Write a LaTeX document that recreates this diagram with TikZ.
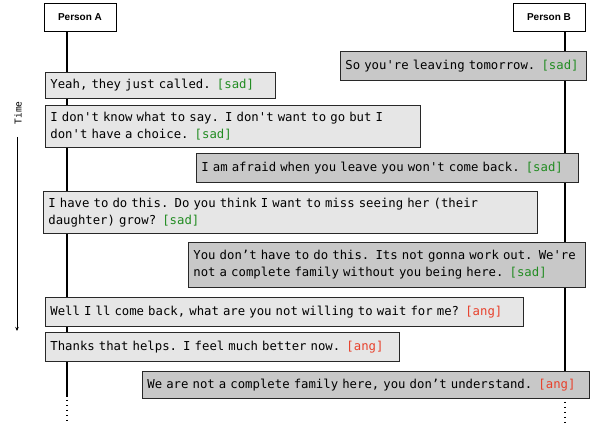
\documentclass[tikz,border=0pt]{standalone}
\usepackage{fontspec}
\setmonofont{DejaVu Sans Mono}
\newfontfamily\headfont{Liberation Sans}
\usetikzlibrary{arrows.meta}
\definecolor{sadgreen}{RGB}{34,140,34}
\definecolor{angred}{RGB}{232,65,44}
\definecolor{afill}{RGB}{230,230,230}
\definecolor{bfill}{RGB}{200,200,200}
\definecolor{edge}{RGB}{40,40,40}
\newcommand{\sad}{\textcolor{sadgreen}{[sad]}}
\newcommand{\ang}{\textcolor{angred}{[ang]}}
\tikzset{
  actor/.style={draw=black, fill=white, line width=0.8pt, minimum width=72pt,
    minimum height=28pt, inner sep=0pt,
    font=\headfont\bfseries\fontsize{10}{12}\selectfont},
  msg/.style={draw=edge, line width=0.8pt, anchor=north west, align=left,
    inner xsep=5pt, inner ysep=0pt,
    font=\ttfamily\fontsize{12.3}{16.8}\selectfont},
  msgA/.style={msg, fill=afill},
  msgB/.style={msg, fill=bfill},
  lifeline/.style={line width=1.3pt, black},
  tail/.style={line width=1.3pt, black, dash pattern=on 1.5pt off 3.5pt},
}
\begin{document}
\begin{tikzpicture}[x=1pt, y=-1pt]
  \useasboundingbox (0,0) rectangle (590,427);

  % actors
  \node[actor] (pa) at (80,17) {Person A};
  \node[actor] (pb) at (549,17) {Person B};
  \coordinate (ta) at (67,397);
  \coordinate (tb) at (565,399);
  \coordinate (ea) at (67,421);
  \coordinate (eb) at (565,423);
  \draw[lifeline] (pa.south -| ta) -- (ta);
  \draw[lifeline] (pb.south -| tb) -- (tb);
  \draw[tail] (ta) ++(0,3) -- (ea);
  \draw[tail] (tb) ++(0,3) -- (eb);

  % time axis
  \node[rotate=90, font=\ttfamily\fontsize{9.5}{10}\selectfont] (time) at (18,113) {Time};
  \coordinate (tend) at (17,331);
  \draw[line width=0.6pt, -{Stealth[length=4pt, width=3.5pt]}] (17,137) -- (tend);

  % messages
  \node[msgB, text width=236pt, minimum height=29pt] (m1) at (340,51)
    {So you're leaving tomorrow. \sad};
  \node[msgA, text width=220pt, minimum height=26pt] (m2) at (45,72)
    {Yeah, they just called. \sad};
  \node[msgA, text width=365pt, minimum height=42pt] (m3) at (45,105)
    {I don't know what to say. I don't want to go but I\\don't have a choice. \sad};
  \node[msgB, text width=372pt, minimum height=29pt] (m4) at (196,153)
    {I am afraid when you leave you won't come back. \sad};
  \node[msgA, text width=484pt, minimum height=42pt] (m5) at (43,191)
    {I have to do this. Do you think I want to miss seeing her (their\\daughter) grow? \sad};
  \node[msgB, text width=387pt, minimum height=45pt] (m6) at (188,242)
    {You don’t have to do this. Its not gonna work out. We're\\not a complete family without you being here. \sad};
  \node[msgA, text width=468pt, minimum height=29pt] (m7) at (45,297)
    {Well I ll come back, what are you not willing to wait for me? \ang};
  \node[msgA, text width=344pt, minimum height=29pt] (m8) at (45,332)
    {Thanks that helps. I feel much better now. \ang};
  \node[msgB, text width=437pt, minimum height=27pt] (m9) at (142,371)
    {We are not a complete family here, you don’t understand. \ang};
\end{tikzpicture}
\end{document}
